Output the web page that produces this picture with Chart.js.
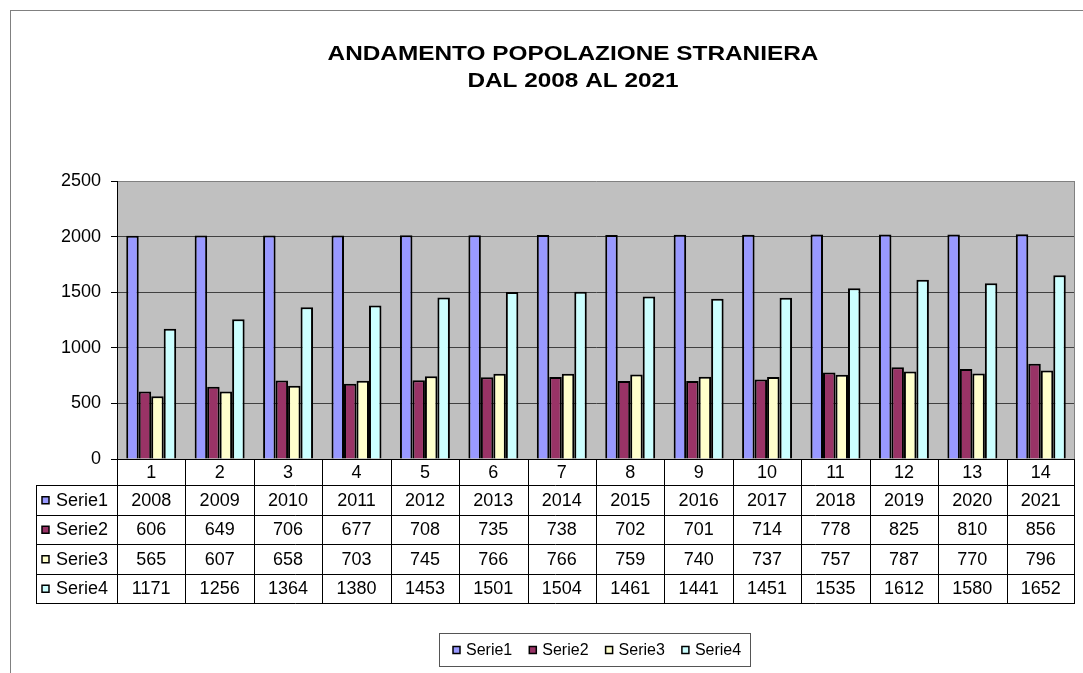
<!DOCTYPE html>
<html>
<head>
<meta charset="utf-8">
<script src="https://cdn.jsdelivr.net/npm/chart.js@4"></script>
<style>
  html, body { margin: 0; padding: 0; background: #fff; }
  #wrap { width: 1083px; height: 673px; }
</style>
</head>
<body>
<div id="wrap"><canvas id="chart" width="1083" height="673"></canvas></div>
<script>
// data
const categories = ['1', '2', '3', '4', '5', '6', '7', '8', '9', '10', '11', '12', '13', '14'];
const serie1 = [2008, 2009, 2010, 2011, 2012, 2013, 2014, 2015, 2016, 2017, 2018, 2019, 2020, 2021];
const serie2 = [606, 649, 706, 677, 708, 735, 738, 702, 701, 714, 778, 825, 810, 856];
const serie3 = [565, 607, 658, 703, 745, 766, 766, 759, 740, 737, 757, 787, 770, 796];
const serie4 = [1171, 1256, 1364, 1380, 1453, 1501, 1504, 1461, 1441, 1451, 1535, 1612, 1580, 1652];
const seriesNames = ['Serie1', 'Serie2', 'Serie3', 'Serie4'];
const seriesColors = ['#9999FF', '#993366', '#FFFFCC', '#CCFFFF'];
const titleLines = ['ANDAMENTO POPOLAZIONE STRANIERA', 'DAL 2008 AL 2021'];

const FONT = "'Liberation Sans', Arial, sans-serif";

// frame, plot background, title
const backdrop = {
  id: 'backdrop',
  beforeDraw(chart) {
    const ctx = chart.ctx;
    const a = chart.chartArea;
    ctx.save();
    ctx.strokeStyle = '#808080';
    ctx.lineWidth = 1;
    ctx.strokeRect(10.5, 10.5, 1200, 1000);
    ctx.fillStyle = '#C0C0C0';
    ctx.fillRect(a.left, a.top, a.right - a.left, a.bottom - a.top);
    // title glyphs in the picture are wider than Arial, stretch a bit
    ctx.translate(573, 0);
    ctx.scale(1.16, 1);
    ctx.fillStyle = '#000';
    ctx.font = 'bold 21px ' + FONT;
    ctx.textAlign = 'center';
    ctx.textBaseline = 'middle';
    ctx.fillText(titleLines[0], 0, 54);
    ctx.fillText(titleLines[1], 0, 81);
    ctx.restore();
  }
};

// data table under the plot + boxed legend
const dataTable = {
  id: 'dataTable',
  afterDraw(chart) {
    const ctx = chart.ctx;
    const a = chart.chartArea;
    const xs = chart.scales.x;
    const n = categories.length;
    const cw = (a.right - a.left) / n;
    const headTop = a.bottom, headH = 26, rowH = 29.5;
    const tableLeft = 36;
    const tableBottom = headTop + headH + rowH * chart.data.datasets.length;
    ctx.save();

    // plot right border
    ctx.strokeStyle = '#808080';
    ctx.beginPath();
    ctx.moveTo(Math.round(a.right) - 0.5, a.top);
    ctx.lineTo(Math.round(a.right) - 0.5, a.bottom);
    ctx.stroke();

    ctx.strokeStyle = '#000';
    ctx.lineWidth = 1;
    ctx.beginPath();
    // verticals at category boundaries
    for (let i = 0; i <= n; i++) {
      const x = i === n ? Math.round(a.right) - 0.5 : Math.round(xs.getPixelForValue(i) - cw / 2) + 0.5;
      ctx.moveTo(x, headTop);
      ctx.lineTo(x, tableBottom);
    }
    // left of row header column
    ctx.moveTo(tableLeft + 0.5, headTop + headH);
    ctx.lineTo(tableLeft + 0.5, tableBottom);
    // horizontals
    for (let r = 0; r <= chart.data.datasets.length; r++) {
      const y = Math.round(headTop + headH + r * rowH) + 0.5;
      ctx.moveTo(tableLeft, y);
      ctx.lineTo(Math.round(a.right), y);
    }
    ctx.stroke();

    ctx.fillStyle = '#000';
    ctx.font = '18px ' + FONT;
    ctx.textAlign = 'center';
    ctx.textBaseline = 'middle';
    categories.forEach((c, i) => {
      ctx.fillText(c, xs.getPixelForValue(i), headTop + headH / 2 + 1);
    });
    chart.data.datasets.forEach((ds, r) => {
      const yc = headTop + headH + r * rowH + rowH / 2 + 1;
      ds.data.forEach((v, i) => {
        ctx.fillStyle = '#000';
        ctx.textAlign = 'center';
        ctx.fillText(String(v), xs.getPixelForValue(i), yc);
      });
      // row header: swatch + name
      ctx.fillStyle = ds.backgroundColor;
      ctx.fillRect(42, yc - 4, 7, 7);
      ctx.strokeStyle = '#000';
      ctx.lineWidth = 1.5;
      ctx.strokeRect(42, yc - 4, 7, 7);
      ctx.fillStyle = '#000';
      ctx.textAlign = 'left';
      ctx.fillText(ds.label, 56, yc);
    });

    // legend
    const lx = 439, ly = 633, lw = 311, lh = 33;
    ctx.strokeStyle = '#555';
    ctx.lineWidth = 1;
    ctx.strokeRect(lx + 0.5, ly + 0.5, lw, lh);
    ctx.font = '16px ' + FONT;
    ctx.textAlign = 'left';
    chart.data.datasets.forEach((ds, i) => {
      const bx = 453 + i * 76.3;
      const cy = ly + lh / 2 + 1;
      ctx.fillStyle = ds.backgroundColor;
      ctx.fillRect(bx, cy - 4, 7, 7);
      ctx.strokeStyle = '#000';
      ctx.lineWidth = 1.5;
      ctx.strokeRect(bx, cy - 4, 7, 7);
      ctx.fillStyle = '#000';
      ctx.fillText(ds.label, bx + 13, cy);
    });
    ctx.restore();
  }
};

const seriesData = [serie1, serie2, serie3, serie4];

new Chart(document.getElementById('chart'), {
  type: 'bar',
  data: {
    labels: categories,
    datasets: seriesData.map((d, i) => ({
      label: seriesNames[i],
      data: d,
      backgroundColor: seriesColors[i],
      borderColor: '#000',
      borderWidth: 2,
      barPercentage: 1,
      categoryPercentage: 0.73
    }))
  },
  options: {
    responsive: false,
    animation: false,
    layout: { padding: { top: 181, right: 8, left: 0, bottom: 0 } },
    plugins: {
      legend: { display: false },
      title: { display: false },
      tooltip: { enabled: false }
    },
    scales: {
      x: {
        ticks: { display: false },
        grid: { display: false, drawTicks: false },
        border: { display: false },
        afterFit: s => { s.height = 214; }
      },
      y: {
        min: 0,
        max: 2500,
        ticks: {
          stepSize: 500,
          color: '#000',
          padding: 10,
          font: { family: FONT, size: 18 },
          callback: v => String(v)
        },
        grid: {
          color: ctx => ctx.tick && ctx.tick.value === 2500 ? '#808080' : (ctx.tick && ctx.tick.value === 0 ? '#000' : '#404040'),
          tickColor: '#000',
          tickLength: 6
        },
        border: { color: '#000', width: 1 },
        afterFit: s => { s.width = 117; }
      }
    }
  },
  plugins: [backdrop, dataTable]
});
</script>
</body>
</html>
